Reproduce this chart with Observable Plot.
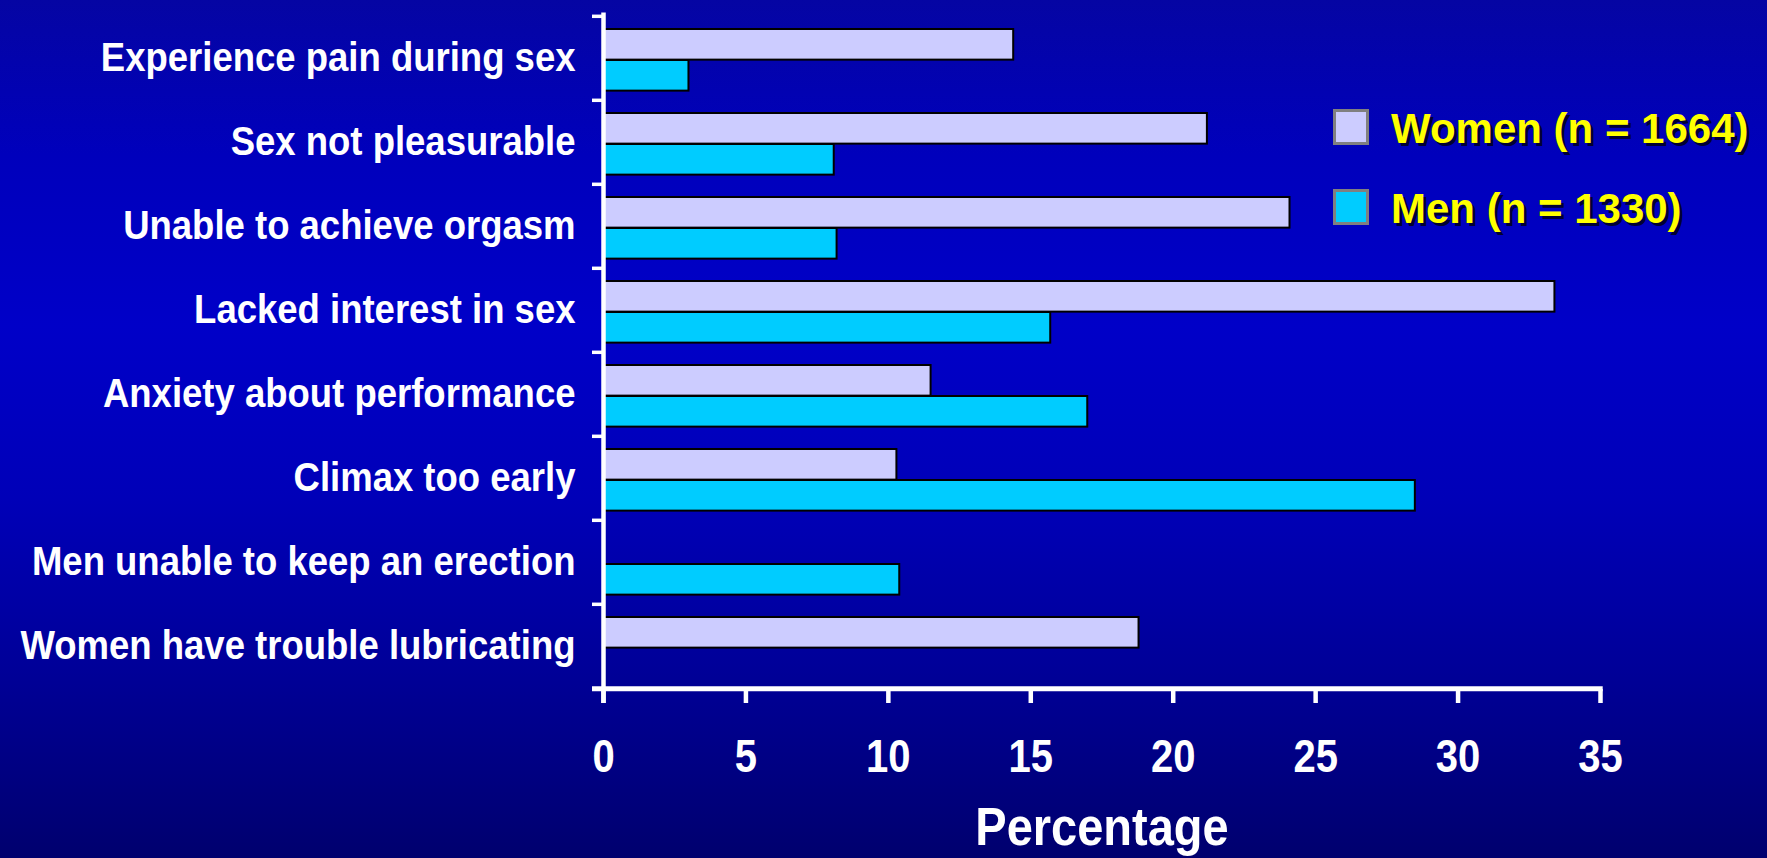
<!DOCTYPE html>
<html>
<head>
<meta charset="utf-8">
<script src="https://cdn.jsdelivr.net/npm/d3@7"></script>
<script src="https://cdn.jsdelivr.net/npm/@observablehq/plot@0.6"></script>
<style>
html, body { margin: 0; padding: 0; }
body {
  width: 1767px; height: 858px; overflow: hidden;
  background: linear-gradient(to bottom, #0505a3 0%, #0000bc 18%, #0000c8 38%, #0000b8 58%, #000098 78%, #00006e 100%);
  font-family: "Liberation Sans", Arial, sans-serif;
}
#wrap { position: relative; width: 1767px; height: 858px; }
#wrap svg { position: absolute; left: 0; top: 0; }
.sw { position: absolute; width: 30px; height: 30px; border: 3px solid #808080; }
.lt { position: absolute; font-size: 42px; line-height: 42px; font-weight: bold; color: #ffff00;
      text-shadow: 3px 3px 0 #000033; white-space: nowrap; }
</style>
</head>
<body>
<div id="wrap"></div>
<script>
const categories = [
  "Experience pain during sex",
  "Sex not pleasurable",
  "Unable to achieve orgasm",
  "Lacked interest in sex",
  "Anxiety about performance",
  "Climax too early",
  "Men unable to keep an erection",
  "Women have trouble lubricating"
];
const women = [14.4, 21.2, 24.1, 33.4, 11.5, 10.3, null, 18.8];
const men   = [3.0, 8.1, 8.2, 15.7, 17.0, 28.5, 10.4, null];
const xTicks = [0, 5, 10, 15, 20, 25, 30, 35];
const seriesNames = ["Women (n = 1664)", "Men (n = 1330)"];
const seriesColors = ["#CCCCFF", "#00CCFF"];

const W = 1767, H = 858;
const mt = 14, mb = 169, ml = 603, mr = 167;
const bw = (H - mt - mb) / categories.length;
const barH = 31, padTop = 13;

const womenRows = categories.map((c, i) => ({category: c, value: women[i]})).filter(d => d.value != null);
const menRows = categories.map((c, i) => ({category: c, value: men[i]})).filter(d => d.value != null);

const plot = Plot.plot({
  width: W, height: H,
  marginTop: mt, marginBottom: mb, marginLeft: ml, marginRight: mr,
  style: {background: "transparent", color: "white", fontFamily: "'Liberation Sans', Arial, sans-serif", overflow: "visible"},
  x: {domain: [0, 35], axis: null},
  y: {domain: categories, padding: 0, axis: null},
  marks: [
    Plot.barX(womenRows, {x: "value", y: "category", fill: seriesColors[0], stroke: "#000", strokeWidth: 2,
      insetTop: padTop, insetBottom: bw - padTop - barH}),
    Plot.barX(menRows, {x: "value", y: "category", fill: seriesColors[1], stroke: "#000", strokeWidth: 2,
      insetTop: padTop + barH, insetBottom: bw - padTop - 2 * barH}),
    Plot.ruleX([0], {stroke: "white", strokeWidth: 4.5, insetTop: -1.5, insetBottom: -14}),
    Plot.ruleY([categories[categories.length - 1]], {y: d => d, dy: bw / 2, stroke: "white", strokeWidth: 5, insetLeft: -11, insetRight: -2.7}),
    Plot.axisY({tickSize: 11, tickFormat: () => "", stroke: "white", strokeWidth: 3.5, dy: -bw / 2, label: null}),
    Plot.axisY({tickSize: 0, tickPadding: 28, fontSize: 36.5, fontWeight: "bold", fill: "white", label: null}),
    Plot.axisX({ticks: xTicks, tickSize: 14, stroke: "white", strokeWidth: 4.5, tickPadding: 36, fontSize: 40, fontWeight: "bold", fill: "white", label: null}),
    Plot.text(["Percentage"], {frameAnchor: "bottom", lineAnchor: "middle", dy: 139, fontSize: 47, fontWeight: "bold", fill: "white", text: d => d})
  ]
});
const wrap = document.getElementById("wrap");
wrap.appendChild(plot);

// the reference uses a slightly condensed bold face: keep widths, enlarge glyph height
function condense(nodes, size) {
  nodes.forEach(el => {
    const len = el.getComputedTextLength();
    if (!len) return;
    el.style.fontSize = size + "px";
    el.setAttribute("textLength", len);
    el.setAttribute("lengthAdjust", "spacingAndGlyphs");
  });
}
const allText = Array.from(plot.querySelectorAll("text"));
const groupOf = el => (el.closest("g[aria-label]") || {getAttribute: () => ""}).getAttribute("aria-label") || "";
condense(allText.filter(el => groupOf(el).startsWith("y-axis")), 40.5);
condense(allText.filter(el => groupOf(el).startsWith("x-axis")), 46);
condense(allText.filter(el => el.textContent === "Percentage"), 53);

// legend
const legendTops = [109, 189];
seriesNames.forEach((name, i) => {
  const sw = document.createElement("div");
  sw.className = "sw";
  sw.style.left = "1333px";
  sw.style.top = legendTops[i] + "px";
  sw.style.background = seriesColors[i];
  wrap.appendChild(sw);
  const t = document.createElement("div");
  t.className = "lt";
  t.style.left = "1391px";
  t.style.top = (legendTops[i] - 1.5) + "px";
  t.textContent = name;
  wrap.appendChild(t);
});
</script>
</body>
</html>
